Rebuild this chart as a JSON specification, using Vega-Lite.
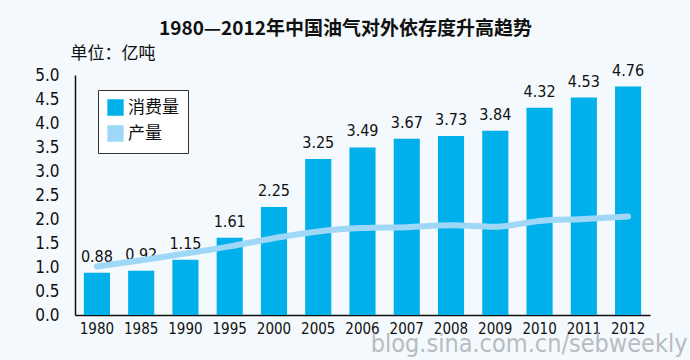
{
  "$schema": "https://vega.github.io/schema/vega-lite/v6.json",
  "width": 575,
  "height": 240,
  "autosize": {"type": "none"},
  "padding": {"left": 75, "top": 75, "right": 40, "bottom": 45},
  "background": "#f3f9fd",
  "title": {
    "text": "1980—2012年中国油气对外依存度升高趋势",
    "anchor": "middle",
    "dx": -17,
    "offset": 5,
    "fontSize": 19,
    "fontWeight": "bold",
    "font": "Noto Sans CJK SC",
    "color": "#111"
  },
  "config": {
    "view": {"stroke": null},
    "font": "Noto Sans CJK SC",
    "axis": {"grid": false, "ticks": false, "domainColor": "#111", "domainWidth": 1.5, "labelColor": "#111", "labelFontSize": 17, "labelFont": "'DejaVu Sans Condensed', 'Liberation Sans', sans-serif", "labelOverlap": false}
  },
  "data": {
    "values": [
      {"year": "1980", "消费量": 0.88, "产量": 1.01},
      {"year": "1985", "消费量": 0.92, "产量": 1.14},
      {"year": "1990", "消费量": 1.15, "产量": 1.28},
      {"year": "1995", "消费量": 1.61, "产量": 1.43},
      {"year": "2000", "消费量": 2.25, "产量": 1.6},
      {"year": "2005", "消费量": 3.25, "产量": 1.74},
      {"year": "2006", "消费量": 3.49, "产量": 1.81},
      {"year": "2007", "消费量": 3.67, "产量": 1.83},
      {"year": "2008", "消费量": 3.73, "产量": 1.87},
      {"year": "2009", "消费量": 3.84, "产量": 1.84},
      {"year": "2010", "消费量": 4.32, "产量": 1.96},
      {"year": "2011", "消费量": 4.53, "产量": 2.0},
      {"year": "2012", "消费量": 4.76, "产量": 2.05}
    ]
  },
  "transform": [{"fold": ["消费量", "产量"], "as": ["series", "value"]}],
  "encoding": {
    "x": {
      "field": "year", "type": "ordinal",
      "scale": {"paddingInner": 0.41, "paddingOuter": 0.2},
      "axis": {
        "labelAngle": 0, "labelPadding": 6, "labelFontSize": 15,
        "title": "blog.sina.com.cn/sebweekly",
        "titleAnchor": "end", "titleAlign": "right", "titleBaseline": "middle", "titleX": 612, "titleY": 28,
        "titleFontSize": 25, "titleFontWeight": "normal", "titleColor": "#b8bcc0", "titleFont": "'DejaVu Sans Condensed', 'Liberation Sans', sans-serif"
      }
    },
    "y": {
      "field": "value", "type": "quantitative",
      "scale": {"domain": [0, 5]},
      "axis": {
        "values": [0, 0.5, 1, 1.5, 2, 2.5, 3, 3.5, 4, 4.5, 5],
        "labelOverlap": false,
        "format": ".1f", "labelPadding": 16, "labelFontSize": 17,
        "title": "单位：亿吨", "titleAngle": 0, "titleAlign": "left", "titleBaseline": "middle",
        "titleX": -5, "titleY": -22, "titleFontSize": 17, "titleFontWeight": "normal", "titleColor": "#111"
      }
    },
    "color": {
      "field": "series", "type": "nominal",
      "scale": {"domain": ["消费量", "产量"], "range": ["#00b0ea", "#9fd8f6"]},
      "legend": {
        "title": null, "orient": "none", "legendX": 23, "legendY": 15,
        "symbolType": "square", "symbolSize": 220, "labelFontSize": 17, "labelColor": "#111",
        "labelFont": "Noto Sans CJK SC",
        "padding": 9, "rowPadding": 5,
        "fillColor": "#ffffff", "strokeColor": "#333",
        "encode": {"symbols": {"update": {"fill": {"scale": "color", "field": "value"}, "stroke": {"value": "transparent"}, "opacity": {"value": 1}}}}
      }
    }
  },
  "layer": [
    {
      "transform": [{"filter": "datum.series === '消费量'"}],
      "mark": {"type": "bar"}
    },
    {
      "transform": [{"filter": "datum.series === '消费量'"}],
      "mark": {"type": "text", "dy": -16, "baseline": "middle", "fontSize": 16, "color": "#111", "font": "'DejaVu Sans Condensed', 'Liberation Sans', sans-serif"},
      "encoding": {
        "color": {"value": "#111"},
        "text": {"field": "value", "type": "quantitative", "format": ".2f"}
      }
    },
    {
      "transform": [{"filter": "datum.series === '产量'"}],
      "mark": {"type": "line", "strokeWidth": 6, "interpolate": "monotone", "strokeCap": "round"}
    }
  ]
}
